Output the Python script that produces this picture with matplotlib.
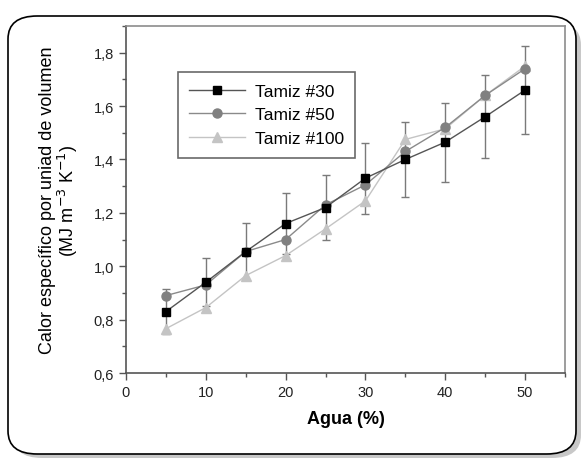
import matplotlib
matplotlib.use("Agg")
import matplotlib.pyplot as plt
from matplotlib.patches import FancyBboxPatch
from matplotlib.ticker import MultipleLocator, FixedLocator

plt.rcParams['font.family'] = ['Liberation Sans', 'DejaVu Sans']

agua = [5, 10, 15, 20, 25, 30, 35, 40, 45, 50]
tamiz30 = [0.83, 0.94, 1.055, 1.16, 1.22, 1.33, 1.40, 1.465, 1.56, 1.66]
tamiz30_err = [0.083, 0.09, 0.108, 0.114, 0.122, 0.133, 0.14, 0.148, 0.155, 0.165]
tamiz50 = [0.89, 0.93, 1.055, 1.10, 1.23, 1.305, 1.43, 1.52, 1.64, 1.74]
tamiz100 = [0.766, 0.845, 0.965, 1.04, 1.14, 1.245, 1.475, 1.515, 1.64, 1.75]
series_names = ["Tamiz #30", "Tamiz #50", "Tamiz #100"]
xticks = [0, 10, 20, 30, 40, 50]
yticks = [0.6, 0.8, 1.0, 1.2, 1.4, 1.6, 1.8]
ytick_labels = ["0,6", "0,8", "1,0", "1,2", "1,4", "1,6", "1,8"]

fig = plt.figure(figsize=(5.85, 4.6), dpi=100)

# outer rounded frame with shadow
shadow = FancyBboxPatch((13 / 585, 1 - 459 / 460), 568 / 585, 436 / 460,
                        boxstyle="round,pad=0,rounding_size=0.05",
                        transform=fig.transFigure, facecolor="#c8c8c8",
                        edgecolor="none", zorder=0)
frame = FancyBboxPatch((8 / 585, 1 - 455 / 460), 568 / 585, 438 / 460,
                       boxstyle="round,pad=0,rounding_size=0.05",
                       transform=fig.transFigure, facecolor="white",
                       edgecolor="black", linewidth=1.2, zorder=1)
fig.patches.extend([shadow, frame])

ax = fig.add_axes([126 / 585, 1 - 374 / 460, 439 / 585, 347 / 460])
ax.set_zorder(2)

ax.errorbar(agua, tamiz30, yerr=tamiz30_err, fmt="none", ecolor="#7a7a7a",
            elinewidth=1.0, capsize=3, capthick=1.0, zorder=2)
ax.plot(agua, tamiz100, color="#c4c4c4", lw=1.0, marker="^", ms=6.5,
        mfc="#c4c4c4", mec="#c4c4c4", label=series_names[2], zorder=3)
ax.plot(agua, tamiz50, color="#8a8a8a", lw=1.0, marker="o", ms=6.5,
        mfc="#808080", mec="#808080", label=series_names[1], zorder=4)
ax.plot(agua, tamiz30, color="#555555", lw=1.0, marker="s", ms=5.8,
        mfc="black", mec="black", label=series_names[0], zorder=5)

ax.set_xlim(0, 55)
ax.set_ylim(0.6, 1.9)
ax.xaxis.set_major_locator(FixedLocator(xticks))
ax.xaxis.set_minor_locator(MultipleLocator(5))
ax.yaxis.set_major_locator(FixedLocator(yticks))
ax.set_yticklabels(ytick_labels)
ax.yaxis.set_minor_locator(MultipleLocator(0.1))
ax.tick_params(which="both", direction="out", color="#555555",
               labelsize=10.5, labelcolor="#222222")
ax.tick_params(which="major", length=5, width=1)
ax.tick_params(which="minor", length=3, width=1)
for s in ax.spines.values():
    s.set_color("#8c8c8c")
    s.set_linewidth(1.2)
ax.spines["left"].set_color("#555555")
ax.spines["bottom"].set_color("#555555")

ax.set_xlabel("Agua (%)", fontsize=13, fontweight="bold", labelpad=8)
ax.set_ylabel("Calor específico por uniad de volumen\n(MJ m$^{-3}$ K$^{-1}$)",
              fontsize=13, labelpad=10, linespacing=1.0)

handles, labels = ax.get_legend_handles_labels()
order = [2, 1, 0]
leg = ax.legend([handles[i] for i in order], [labels[i] for i in order],
                loc="upper left", bbox_to_anchor=(0.118, 0.867),
                borderaxespad=0, fontsize=12.5, frameon=True, fancybox=False,
                edgecolor="#444444", handlelength=3.2, borderpad=0.65,
                labelspacing=0.5, handletextpad=0.6)
leg.get_frame().set_linewidth(1.2)

fig.savefig("out.png", dpi=100)
